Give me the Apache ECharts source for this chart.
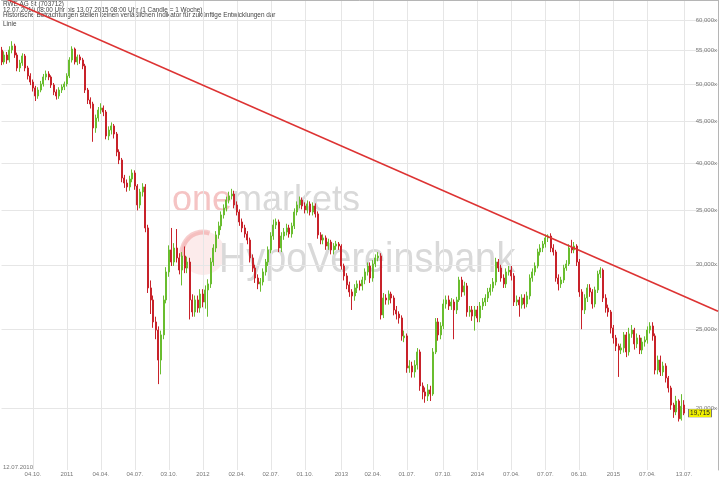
<!DOCTYPE html>
<html>
<head>
<meta charset="utf-8">
<script src="https://cdn.jsdelivr.net/npm/echarts@6/dist/echarts.min.js"></script>
<style>html,body{margin:0;padding:0;background:#fff}#c{width:720px;height:478px}</style>
</head>
<body>
<div id="c"></div>
<script>
// ---- data ----
const startWeek = '2010-07-12';
const weekCount = 275; // weekly categories incl. empty space after the last candle
const tickDates = ['2010-10-04','2011-01-03','2011-04-04','2011-07-04','2011-10-03','2012-01-02','2012-04-02','2012-07-02','2012-10-01','2013-01-07','2013-04-01','2013-07-01','2013-10-07','2014-01-06','2014-04-07','2014-07-07','2014-10-06','2015-01-05','2015-04-06','2015-07-13'];
const tickLabels = ['04.10.','2011','04.04.','04.07.','03.10.','2012','02.04.','02.07.','01.10.','2013','02.04.','01.07.','07.10.','2014','07.04.','07.07.','06.10.','2015','07.04.','13.07.'];
const yTicks = [20000,25000,30000,35000,40000,45000,50000,55000,60000];

const opens = [55110,53280,54340,53580,55110,55750,54340,52380,53130,54190,
52380,51210,50340,49500,48390,49210,50060,51060,51500,51060,
49920,48940,48390,49210,49640,50060,51210,53580,55270,53280,
54040,53580,52680,49210,47840,47300,44200,45460,46500,46770,
46240,43210,43940,44450,43450,41290,40370,38360,37820,37400,
38250,38910,37500,35540,36870,37400,33300,28100,27160,25520,
24940,22910,24600,27160,29400,31290,30240,31460,30590,29560,
30760,29730,30240,27160,26250,27160,26550,27620,27000,27940,
28420,30240,31460,32650,33490,34550,35240,36040,36460,36660,
35540,34840,33870,33300,32740,32180,30590,29730,28900,28420,
28580,29400,30240,31290,32550,33580,33870,31460,32550,32920,
33300,32740,33490,34840,35540,36040,35440,35040,35640,34840,
35440,34650,32650,32180,32370,31640,32000,31290,31640,31820,
31640,29900,29070,28340,27780,27470,28100,28420,28260,28740,
29400,29900,28900,30070,30590,30760,26030,27310,27160,27620,
27310,26400,26100,25810,24400,24530,22400,22530,22150,22590,
23440,21290,20930,20690,21050,20810,23440,25520,24600,25230,
26850,27160,26700,27000,26400,27160,28740,27780,28260,26250,
26400,25950,26400,25810,26700,27000,27310,27780,28100,28580,
30240,29730,28900,28420,29400,29560,29070,27000,27160,26780,
27310,26850,27470,28900,29400,29900,31110,31460,31820,32370,
32550,31460,31110,28900,28420,28740,29730,30070,31460,31290,
31640,30240,27780,26400,27310,28100,27780,26850,27940,29230,
29560,27310,26550,26250,25090,24390,23840,23570,23710,24600,
23440,24670,24940,23980,24390,23570,24110,24250,24940,25230,
24530,22270,22910,22150,22530,21780,21170,20170,19780,20400,
19400,20170];

const closes = [53280,54340,53580,55110,55750,54340,52380,53130,54190,52380,
51210,50340,49500,48390,49210,50060,51060,51500,51060,49920,
48940,48390,49210,49640,50060,51210,53580,55270,53280,54040,
53580,52680,49210,47840,47300,44200,45460,46500,46770,46240,
43210,43940,44450,43450,41290,40370,38360,37820,37400,38250,
38910,37500,35540,36870,37400,33300,28100,27160,25520,24940,
22910,24600,27160,29400,31290,30240,31460,30590,29560,30760,
29730,30240,27160,26250,27160,26550,27620,27000,27940,28420,
30240,31460,32650,33490,34550,35240,36040,36460,36660,35540,
34840,33870,33300,32740,32180,30590,29730,28900,28420,28580,
29400,30240,31290,32550,33580,33870,31460,32550,32920,33300,
32740,33490,34840,35540,36040,35440,35040,35640,34840,35440,
34650,32650,32180,32370,31640,32000,31290,31640,31820,31640,
29900,29070,28340,27780,27470,28100,28420,28260,28740,29400,
29900,28900,30070,30590,30760,26030,27310,27160,27620,27310,
26400,26100,25810,24530,24530,22400,22530,22150,22590,23440,
21290,20930,20690,21050,20810,23440,25520,24600,25230,26850,
27160,26700,27000,26400,27160,28740,27780,28260,26250,26400,
25950,26400,25810,26700,27000,27310,27780,28100,28580,30240,
29730,28900,28420,29400,29560,29070,27000,27160,26780,27310,
26850,27470,28900,29400,29900,31110,31460,31820,32370,32550,
31460,31110,28900,28420,28740,29730,30070,31460,31290,31640,
30240,27780,26400,27310,28100,27780,26850,27940,29230,29560,
27310,26550,26250,25090,24390,23840,23570,23710,24600,23440,
24670,24940,23980,24390,23570,24110,24250,24940,25230,24530,
22270,22910,22150,22530,21780,21170,20170,19780,20400,19400,
20100,19715];

const lows = [52800,52900,53000,53200,54600,53900,51900,51800,52700,51900,
50700,49900,49000,47700,48000,48900,49700,50600,50600,49500,
48500,47900,48000,48800,49200,49700,50900,53200,52900,52800,
53000,52200,48800,47300,46700,42500,43600,45000,46000,45700,
42800,42700,43400,42900,40800,39900,37900,37300,36900,37000,
37900,37100,35000,35200,36400,32900,27700,26100,25100,24300,
21400,22000,24300,26900,29000,29900,29900,30200,29200,28300,
29300,29300,25700,25900,25900,26200,26200,26600,26500,25900,
28100,29900,31100,32300,33100,34200,34900,35700,36100,35200,
34500,33500,32900,32400,31800,30200,29400,28500,28000,27800,
28300,29100,29900,31000,32200,33200,31100,31100,32200,32600,
32400,32400,33200,34500,35200,35100,34700,34700,34500,34500,
34300,32300,31800,31800,31300,31300,30900,30900,31300,31300,
29600,28700,28000,27400,26400,27100,27700,27900,27900,28400,
29100,28500,28600,29800,30300,25700,25800,26800,26800,26900,
26000,25700,25400,24200,24100,22100,22100,21800,21800,22300,
21000,20500,20300,20400,20400,20700,23300,24200,24300,25000,
26500,26400,26400,24300,26100,27000,27400,27500,25900,25900,
25600,24900,25500,25500,26400,26700,27000,27500,27800,28300,
29400,28600,28100,28100,29100,28700,26700,26700,25900,26500,
26500,26600,27200,28600,29100,29700,30800,31100,31500,32000,
31100,30800,28600,27900,28100,28500,29500,29900,31000,31000,
29900,27400,25000,26100,27000,27400,26500,26600,27700,28900,
27000,26200,25900,24700,24000,23500,21840,23300,23400,23100,
23200,24400,23600,23700,23300,23300,23800,24000,24700,24200,
22000,22000,21900,21900,21500,20900,19900,19450,19600,19250,
19300,19600];

const highs = [55600,54900,54800,55700,56500,56100,54700,53600,54600,54500,
52700,51600,50700,49800,49600,50500,51500,52000,51900,51300,
50200,49300,49600,50000,50400,51600,54000,55700,55500,54400,
54400,53900,53000,49500,48200,47600,45900,46900,47400,47100,
46500,44400,44900,44700,43700,41600,40600,38700,38200,38600,
39300,39200,37700,37200,37800,37700,33600,28700,27500,25900,
25200,24900,27500,29800,31700,33300,31900,33200,31000,31100,
31600,30700,30600,27600,27500,27500,28000,28000,28300,28800,
30600,31800,33000,33900,34900,35600,36400,36900,37200,37000,
35900,35100,34200,33600,33000,32400,30900,30000,29200,28900,
29700,30500,31600,32900,34100,34200,34100,32900,33300,33700,
33600,33800,35200,35900,36400,36300,35800,36000,35900,35800,
35700,34900,32900,32700,32600,32300,32200,31900,32100,32000,
31800,30100,29300,28600,28000,28400,28700,28700,29000,29700,
30200,30200,30400,30900,31100,31000,27700,27600,27900,27800,
27500,26700,26300,26000,24900,24700,22900,22800,22900,23700,
23600,21500,21200,21400,21300,23700,25800,25800,25500,27200,
27500,27500,27300,27200,27400,29000,29000,28600,28500,26700,
26700,26700,26700,27000,27300,27600,28100,28400,28900,30600,
30500,30000,29200,29700,29900,29900,29300,27500,27400,27600,
27600,27800,29200,29700,30200,31400,31800,32100,32700,32700,
32800,31800,31300,29200,29000,30000,30400,31800,32200,32000,
31800,30500,28000,27600,28400,28400,28000,28200,29500,29800,
29700,27600,26800,26400,25300,24600,24000,24000,24800,24800,
25100,25300,25100,24700,24600,24400,24500,25200,25500,25500,
24700,23200,23200,22800,22700,21900,21300,20300,20700,20500,
20800,20450];

// trend line (drawn in the chart, straight on the log scale)
const trendDates = ['2010-07-12','2015-10-12'];
const trendValues = [64070, 26305];

// ---- build ----
const weeks = [];
{
  const p = startWeek.split('-').map(Number);
  let t = Date.UTC(p[0], p[1]-1, p[2]);
  for (let k = 0; k < weekCount; k++, t += 7*86400000) weeks.push(new Date(t).toISOString().slice(0,10));
}
const labelMap = {};
tickDates.forEach((d,i)=>labelMap[d]=tickLabels[i]);
const isTick = (idx, val) => Object.prototype.hasOwnProperty.call(labelMap, val);
const candles = closes.map((c,i)=>[opens[i], c, lows[i], highs[i]]);
const fmt = v => Math.round(v).toLocaleString('en-US');
const lastIdx = closes.length - 1;
const FONT = 'Liberation Sans, Arial, sans-serif';
const GRID = '#e6e6e6';
const TXT = 6.4;

const chart = echarts.init(document.getElementById('c'), null, {renderer:'canvas'});
chart.setOption({
  animation:false,
  backgroundColor:'#fff',
  grid:{left:1.5, right:2, top:0, bottom:8, containLabel:false},
  xAxis:[{
    type:'category', data:weeks, boundaryGap:false,
    axisLine:{show:false}, axisTick:{show:false},
    axisLabel:{interval:isTick, formatter:v=>labelMap[v]||'', fontSize:6, color:'#777', margin:1, fontFamily:FONT},
    splitLine:{show:true, interval:isTick, lineStyle:{color:GRID, width:1}}
  },{
    type:'category', data:weeks, position:'top', boundaryGap:false,
    axisLine:{show:true, lineStyle:{color:'#b5b5b5'}}, axisTick:{show:false}, axisLabel:{show:false}, splitLine:{show:false}
  }],
  yAxis:{
    type:'log', logBase:10, position:'right', min:16781, max:63496,
    axisLine:{show:true, lineStyle:{color:'#b5b5b5'}},
    axisTick:{show:false, customValues:yTicks},
    axisLabel:{inside:true, margin:1, customValues:yTicks, formatter:v=>fmt(v)+'x', fontSize:6, color:'#777', fontFamily:FONT},
    splitLine:{show:true, lineStyle:{color:GRID, width:1}}
  },
  graphic:[
    {type:'circle', z:-10, shape:{cx:203, cy:253, r:22}, style:{fill:'rgba(236,130,130,0.16)'}},
    {type:'arc', z:-10, shape:{cx:203, cy:253, r:21, startAngle:Math.PI*0.95, endAngle:Math.PI*1.6}, style:{stroke:'rgba(225,80,80,0.28)', lineWidth:5, fill:null}},
    {type:'text', z:-10, x:172, y:201, style:{text:'{a|one}{b|markets}', fontFamily:FONT, verticalAlign:'middle',
      rich:{a:{fontSize:36, fontFamily:FONT, fill:'#f5c4c4', color:'#f5c4c4'}, b:{fontSize:36, fontFamily:FONT, fill:'#d9d9d9', color:'#d9d9d9'}}}},
    {type:'text', z:-10, x:219, y:260, scaleX:0.9, style:{text:'HypoVereinsbank', fontSize:42, fontFamily:FONT, fill:'#d9d9d9', verticalAlign:'middle'}},
    {type:'text', x:3, y:4, style:{text:'RWE AG St (703712)', fontSize:TXT, fontFamily:FONT, fill:'#444', verticalAlign:'middle'}},
    {type:'text', x:3, y:10, style:{text:'12.07.2010 08:00 Uhr bis 13.07.2015 08:00 Uhr (1 Candle = 1 Woche)', fontSize:TXT, fontFamily:FONT, fill:'#444', verticalAlign:'middle'}},
    {type:'text', x:3, y:15.7, style:{text:'Historische Betrachtungen stellen keinen verläßlichen Indikator für zukünftige Entwicklungen dar', fontSize:TXT, fontFamily:FONT, fill:'#444', verticalAlign:'middle'}},
    {type:'text', x:3, y:24.7, style:{text:'Linie', fontSize:TXT, fontFamily:FONT, fill:'#444', verticalAlign:'middle'}},
    {type:'text', x:3, y:467, style:{text:'12.07.2010', fontSize:6, fontFamily:FONT, fill:'#777', verticalAlign:'middle'}}
  ],
  series:[{
    type:'candlestick', data:candles, barWidth:1.5,
    itemStyle:{color:'#69bd2f', color0:'#c8222a', borderColor:'#69bd2f', borderColor0:'#c8222a', borderWidth:1},
    markPoint:{
      symbol:'rect', symbolSize:[23,8], symbolOffset:[16,0], silent:true,
      itemStyle:{color:'#f0f000', borderColor:'#777', borderWidth:0.6},
      label:{show:true, formatter:()=>fmt(closes[lastIdx]), fontSize:6.5, color:'#222', fontFamily:FONT},
      data:[{coord:[weeks[lastIdx], closes[lastIdx]], value:closes[lastIdx]}]
    },
    z:3
  },{
    type:'line', data:trendDates.map((d,i)=>[d, trendValues[i]]), symbol:'none', silent:true,
    lineStyle:{color:'#dd3333', width:1.6}, z:5, clip:true
  }]
});
</script>
</body>
</html>
